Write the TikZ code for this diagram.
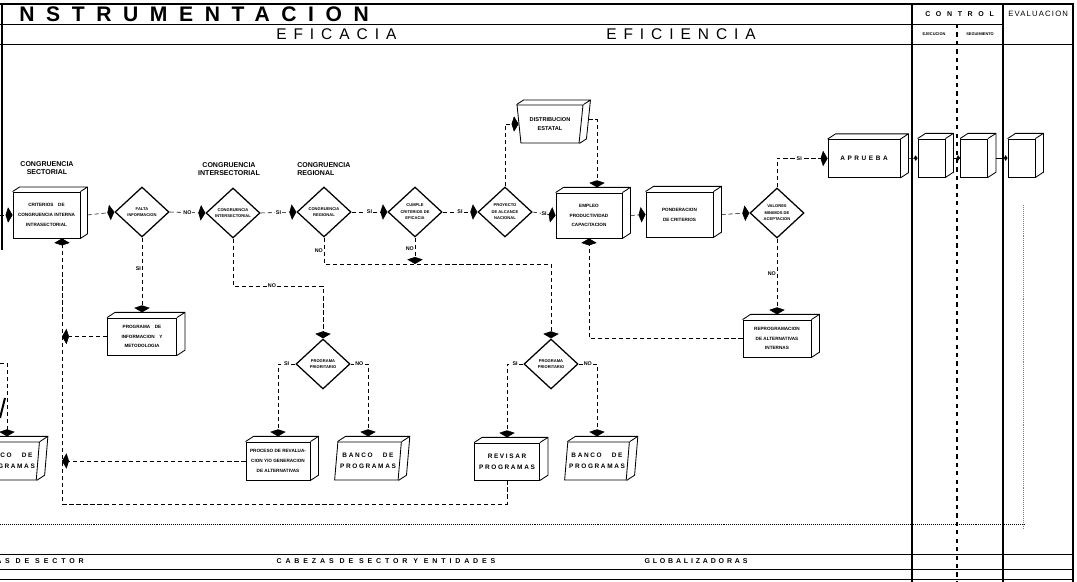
\documentclass[tikz,border=0pt]{standalone}
\usepackage{fontspec}
\setmainfont{Liberation Sans}
\usetikzlibrary{arrows.meta,positioning,calc,shapes.geometric}

\tikzset{
  flow/.style={densely dashed, line width=0.4pt},
  arr/.style={-{Kite[length=5pt,width=11pt,inset=1.8pt]}},
  arrs/.style={-{Kite[length=2.5pt,width=4pt,inset=1pt]}},
  cube/.style={draw, line width=0.6pt, minimum width=1.65cm, minimum height=1.1cm, inner sep=1pt, align=center, font=\fontsize{3.3}{7}\selectfont\bfseries},
  slantbox/.style={cube, trapezium, trapezium left angle=80, trapezium right angle=100, trapezium stretches=true},
  bigtext/.style={font=\fontsize{4.6}{7.5}\selectfont\bfseries\addfontfeature{LetterSpace=25}},
  dia/.style={draw, diamond, line width=0.9pt, minimum width=1.35cm, minimum height=1.25cm, inner sep=0pt, align=center, font=\fontsize{2.9}{4.6}\selectfont\bfseries},
  lbl/.style={fill=white, inner sep=0.6pt, font=\fontsize{3.8}{4}\selectfont\bfseries},
  heading/.style={align=center, inner sep=0pt, font=\fontsize{5}{5.8}\selectfont\bfseries},
  colline/.style={line width=0.8pt},
}

\newcommand{\cubetop}[2][8]{%
  \draw[line width=0.6pt] (#2.north west) -- ++(#1,-0.65*#1) -- ($(#2.north east)+(#1,-0.65*#1)$) -- ($(#2.south east)+(#1,-0.65*#1)$) -- (#2.south east) (#2.north east) -- ++(#1,-0.65*#1);
  \coordinate (#2-b) at ($(#2.east)+(#1,0)$);
  \coordinate (#2-t) at ($(#2.north)+(0,-0.65*#1)$);}
\newcommand{\slanttop}[2][8]{%
  \draw[line width=0.6pt] (#2.top left corner) -- ++(#1,-0.65*#1) -- ($(#2.top right corner)+(#1,-0.65*#1)$) -- ($(#2.bottom right corner)+(#1,-0.65*#1)$) -- (#2.bottom right corner) (#2.top right corner) -- ++(#1,-0.65*#1);
  \coordinate (#2-b) at ($(#2.east)+(#1,-0.65*#1)$);
  \coordinate (#2-t) at ($(#2.north)+(0,-0.65*#1)$);}

\begin{document}
\begin{tikzpicture}[x=0.025cm,y=-0.025cm]
\useasboundingbox (0,0) rectangle (1077,582);

\draw[colline] (0,4) -- (1074,4);
\draw[line width=0.6pt] (0,24) -- (1003,24);
\draw[line width=0.6pt] (0,44) -- (1074,44);
\draw[colline] (912,4) -- (912,582);
\draw[colline,dashed] (957,24) -- (957,582);
\draw[colline] (1003,4) -- (1003,582);
\draw[line width=1.8pt] (1073,4) -- (1073,582);
\draw[densely dotted, line width=0.4pt] (0,524) -- (1025,524);
\draw[densely dotted, gray] (1023,205) -- (1023,528);
\draw[line width=0.6pt] (0,554) -- (1074,554);
\draw[line width=0.6pt] (0,569) -- (1074,569);
\draw[line width=0.6pt] (0,579) -- (1074,579);
\draw[line width=0.8pt] (2,4) -- (2,250);
\draw[line width=1.4pt] (0,418) -- (5,398);

\node[anchor=west, inner sep=0pt, font=\fontsize{15}{15}\selectfont\bfseries\addfontfeature{LetterSpace=55}] (titulo) at (19,14) {NSTRUMENTACION};
\node[anchor=west, inner sep=0pt, font=\fontsize{11}{11}\selectfont\addfontfeature{LetterSpace=45}] (eficacia-h) at (276,34) {EFICACIA};
\node[anchor=west, inner sep=0pt, font=\fontsize{11}{11}\selectfont\addfontfeature{LetterSpace=45}] (eficiencia-h) at (606,34) {EFICIENCIA};
\node[anchor=west, inner sep=0pt, font=\fontsize{5}{5}\selectfont\bfseries\addfontfeature{LetterSpace=80}] (control-h) at (925,14) {CONTROL};
\node[anchor=west, inner sep=0pt, font=\fontsize{5.5}{5.5}\selectfont\addfontfeature{LetterSpace=15}] (evaluacion-h) at (1008,14) {EVALUACION};
\node[inner sep=0pt, font=\fontsize{2.8}{3}\selectfont\bfseries] (ejecucion-h) at (934,34) {EJECUCION};
\node[inner sep=0pt, font=\fontsize{2.8}{3}\selectfont\bfseries] (seguimiento-h) at (980,34) {SEGUIMIENTO};
\node[anchor=east, inner sep=0pt, font=\fontsize{5}{5}\selectfont\bfseries\addfontfeature{LetterSpace=55}] (pie1) at (84,561.5) {CABEZAS DE SECTOR};
\node[inner sep=0pt, font=\fontsize{5}{5}\selectfont\bfseries\addfontfeature{LetterSpace=55}] (pie2) at (386,561.5) {CABEZAS DE SECTOR Y ENTIDADES};
\node[inner sep=0pt, font=\fontsize{5}{5}\selectfont\bfseries\addfontfeature{LetterSpace=40}] (pie3) at (696,561.5) {GLOBALIZADORAS};

\node[heading] (hsec) at (47,168) {CONGRUENCIA\\SECTORIAL};
\node[heading] (hinter) at (229,169) {CONGRUENCIA\\INTERSECTORIAL};
\node[heading, align=left, anchor=west] (hreg) at (297,169) {CONGRUENCIA\\REGIONAL};

\node[cube, minimum width=1.675cm, minimum height=1.15cm] (crit) at (46.5,215) {CRITERIOS\quad DE\\CONGRUENCIA INTERNA\\INTRASECTORIAL};
\cubetop[7]{crit}
\node[dia] (falta) at (142,212) {FALTA\\INFORMACION};
\node[dia] (cinter) at (233,213) {CONGRUENCIA\\INTERSECTORIAL};
\node[dia] (cregion) at (324,212) {CONGRUENCIA\\REGIONAL};
\node[dia] (eficacia) at (415,212) {CUMPLE\\CRITERIOS DE\\EFICACIA};
\node[dia] (alcance) at (505,212) {PROYECTO\\DE ALCANCE\\NACIONAL};
\node[cube, minimum height=1.125cm] (empleo) at (589,215.5) {EMPLEO\\PRODUCTIVIDAD\\CAPACITACION};
\cubetop{empleo}
\node[cube, minimum width=1.675cm, minimum height=1.125cm] (ponder) at (679.5,214.5) {PONDERACION\\DE CRITERIOS};
\cubetop{ponder}
\node[dia] (valores) at (777,213) {VALORES\\MINIMOS DE\\ACEPTACION};
\node[cube, minimum width=1.8cm, minimum height=0.95cm, font=\fontsize{4.6}{5}\selectfont\bfseries\addfontfeature{LetterSpace=40}] (aprueba) at (864,158.5) {APRUEBA};
\cubetop{aprueba}
\node[cube, minimum width=0.675cm, minimum height=0.95cm] (sub1) at (931.5,158) {};
\cubetop{sub1}
\node[cube, minimum width=0.675cm, minimum height=0.95cm] (sub2) at (974,158) {};
\cubetop{sub2}
\node[cube, minimum width=0.675cm, minimum height=0.95cm] (sub3) at (1021.5,158) {};
\cubetop{sub3}
\node[slantbox, trapezium left angle=100, minimum width=1.65cm, minimum height=0.95cm, font=\fontsize{4}{7}\selectfont\bfseries] (distrib) at (550,124) {DISTRIBUCION\\ESTATAL};
\slanttop[7]{distrib}
\node[cube, minimum width=1.7cm, minimum height=0.925cm] (reprog) at (777,338.5) {REPROGRAMACION\\DE ALTERNATIVAS\\INTERNAS};
\cubetop{reprog}
\node[cube, minimum width=1.725cm, minimum height=0.925cm] (proginfo) at (142,336.5) {PROGRAMA\quad DE\\INFORMACION\quad Y\\METODOLOGIA};
\cubetop{proginfo}
\node[dia] (prior1) at (323,364) {PROGRAMA\\PRIORITARIO};
\node[dia] (prior2) at (551,364) {PROGRAMA\\PRIORITARIO};
\node[cube, minimum width=1.6cm, minimum height=0.95cm] (revision) at (278,461) {PROCESO DE REVALUA-\\CION Y/O GENERACION\\DE ALTERNATIVAS};
\cubetop{revision}
\node[slantbox, bigtext, minimum width=1.675cm, minimum height=0.95cm] (banco1) at (368,461) {BANCO~~ DE\\PROGRAMAS};
\slanttop{banco1}
\node[cube, bigtext, minimum width=1.625cm, minimum height=0.925cm] (revisar) at (507,461.5) {REVISAR\\PROGRAMAS};
\cubetop{revisar}
\node[slantbox, bigtext, minimum width=1.625cm, minimum height=0.95cm] (banco2) at (597,461) {BANCO~~ DE\\PROGRAMAS};
\slanttop{banco2}
\node[slantbox, bigtext, minimum width=1.6cm, minimum height=0.95cm] (banco0) at (7,461) {BANCO~~ DE\\PROGRAMAS};
\slanttop{banco0}

\coordinate (j0) at (0,363);
\coordinate (j1) at (62,504);
\coordinate (j2) at (272,286);
\coordinate (j3) at (415,264);
\coordinate (j4) at (0,215);
\coordinate (j5) at ($(empleo-t)+(8,0)$);

\draw[flow,arr] (j4) -- (crit.west);
\draw[flow,arr] (crit-b) -- (falta.west);
\draw[flow,arr] (falta.east) -- node[lbl]{NO} (cinter.west);
\draw[flow,arr] (cinter.east) -- node[lbl]{SI} (cregion.west);
\draw[flow,arr] (cregion.east) -- node[lbl]{SI} (eficacia.west);
\draw[flow,arr] (eficacia.east) -- node[lbl]{SI} (alcance.west);
\draw[flow,arr] (alcance.east) -- node[lbl]{SI} (empleo.west);
\draw[flow,arr] (empleo-b) -- (ponder.west);
\draw[flow,arr] (ponder-b) -- (valores.west);
\draw[flow,arr] (valores.north) |- node[lbl,pos=.72]{SI} (aprueba.west);
\draw[arrs] (aprueba-b) -- (sub1.west);
\draw[arrs] (sub1-b) -- (sub2.west);
\draw[arrs] (sub2-b) -- (sub3.west);
\draw[flow,arr] (valores.south) -- node[lbl,left,pos=.46]{NO} (reprog-t);
\draw[flow,arr] (reprog.west) -| (empleo.south);
\draw[flow,arr] (alcance.north) |- (distrib.west);
\draw[flow,arr] (distrib-b) -| (j5);
\draw[flow,arr] (falta.south) -- node[lbl,left,pos=.42]{SI} (proginfo-t);
\draw[flow,arr] (proginfo.west) -- (proginfo.west -| j1);
\draw[flow,arr] (cinter.south) |- (j2) node[lbl]{NO} -| (prior1.north);
\draw[flow,arr] (cregion.south) -- node[lbl,left,pos=.5]{NO} (cregion.south |- j3) -| (prior2.north);
\draw[flow,arr] (eficacia.south) -- node[lbl,left,pos=.4]{NO} (j3);
\draw[flow,arr] (prior1.west) -| node[lbl,pos=.25]{SI} (revision-t);
\draw[flow,arr] (prior1.east) -| node[lbl,pos=.25]{NO} (banco1-t);
\draw[flow,arr] (prior2.west) -| node[lbl,pos=.25]{SI} (revisar-t);
\draw[flow,arr] (prior2.east) -| node[lbl,pos=.25]{NO} (banco2-t);
\draw[flow,arr] (revision.west) -- (revision.west -| j1);
\draw[flow,arr] (revisar.south) |- (j1) -- (j1 |- crit.south);
\draw[flow,arr] (j0) -| (banco0-t);
\end{tikzpicture}
\end{document}
